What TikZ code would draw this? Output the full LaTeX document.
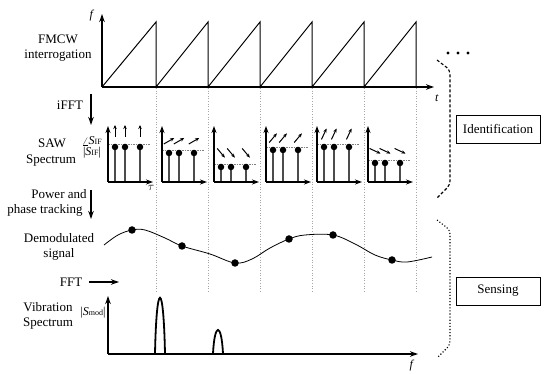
\documentclass[tikz,border=0pt]{standalone}
\usepackage{fontspec}
\setmainfont{Liberation Serif}
\usetikzlibrary{arrows.meta}
\begin{document}
\begin{tikzpicture}[x=1pt,y=-1pt,
  lbl/.style={font=\fontsize{13}{15}\selectfont, inner sep=0pt, align=center},
  small/.style={font=\fontsize{12}{13}\selectfont, inner sep=0pt},
  axis/.style={line width=1.2pt, -{Stealth[length=8pt,width=5.5pt]}},
  paxis/.style={line width=1.1pt, -{Stealth[length=7pt,width=5pt]}},
  flow/.style={line width=1.2pt, -{Stealth[length=8pt,width=5.5pt]}},
  guide/.style={gray!70, dotted, line width=0.6pt},
  stem/.style={line width=1.6pt, black!70},
  sdot/.style={fill=black, circle, inner sep=0pt, minimum size=6.5pt},
  level/.style={gray, dash pattern=on 1.5pt off 1pt, line width=0.7pt},
  phase/.style={line width=1pt, -{Stealth[length=4pt,width=3.5pt]}},
  tag/.style={draw, line width=0.8pt, minimum width=84pt, minimum height=28pt, inner sep=0pt, font=\fontsize{13}{15}\selectfont},
  peak/.style={line width=1.8pt}
]
\useasboundingbox (0,0) rectangle (550,374);

% guides
\foreach \gx in {156,208,260,312,364,416}
  \draw[guide] (\gx,88) -- (\gx,292);

% FMCW axes and sawtooth
\coordinate (fo) at (102,87);
\coordinate (fy) at (102,14);
\coordinate (fx) at (434,87);
\draw[axis] (fo) -- (fy);
\draw[axis] (fo) -- (fx);
\draw[line width=1pt] (102,87) -- (156,22) -- (156,87) -- (208,22) -- (208,87) -- (260,22) -- (260,87) -- (312,22) -- (312,87) -- (364,22) -- (364,87) -- (416,22) -- (416,87);
\node[small] (flab) at (92,16) {\textit{f}};
\node[small] (tlab) at (437,98) {\textit{t}};

% left labels
\node[lbl] (fmcw) at (58,48) {FMCW\\interrogation};
\node[lbl] (ifft) at (70,105) {iFFT};
\coordinate (a1s) at (91,94); \coordinate (a1e) at (91,125);
\draw[flow] (a1s) -- (a1e);
\node[lbl] (saw1) at (52,143) {SAW};
\node[lbl] (saw2) at (51,161) {Spectrum};
\node[small] (angs) at (92,141) {$\angle$\textit{S}{\fontsize{8}{9}\selectfont IF}};
\node[small] (mags) at (92,153) {|\textit{S}{\fontsize{8}{9}\selectfont IF}|};
\node[lbl] (pow1) at (59,194) {Power and};
\node[lbl] (pow2) at (45,210) {phase tracking};
\coordinate (a2s) at (91,190); \coordinate (a2e) at (91,219);
\draw[flow] (a2s) -- (a2e);
\node[lbl] (dem) at (59,247) {Demodulated\\signal};
\node[lbl] (fft) at (71,282) {FFT};
\coordinate (a3s) at (89,282); \coordinate (a3e) at (119,282);
\draw[flow] (a3s) -- (a3e);
\node[lbl] (vib) at (48,316) {Vibration\\Spectrum};

% SAW spectrum panels
\foreach \i/\ax/\dy/\ang/\ay in {1/108/147/90/131, 2/162/153/30/141, 3/214/167/-50/153, 4/266/150/50/138, 5/317/147/65/134, 6/368/163/-25/151} {
  \coordinate (po\i) at (\ax,182);
  \coordinate (py\i) at (\ax,126);
  \coordinate (px\i) at (\ax+45,182);
  \draw[level] (\ax,\dy-3) -- (\ax+42,\dy-3);
  \foreach \d in {7,17,32} {
    \draw[stem] (\ax+\d,182) -- (\ax+\d,\dy);
    \node[sdot] (s\i-\d) at (\ax+\d,\dy) {};
    \draw[phase] (\ax+\d,\ay) ++({180-\ang}:6) -- ++({-\ang}:12);
  }
  \draw[paxis] (po\i) -- (py\i);
  \draw[paxis] (po\i) -- (px\i);
}
\node[small] (tau) at (151,188) {$\tau$};

% demodulated signal
\draw[line width=0.8pt] plot[smooth, tension=0.6] coordinates {(104,245) (118,235) (132,230) (145,230) (165,238) (182,246) (210,254) (235,263) (252,259) (270,248) (289,239) (305,235) (333,235) (355,244) (375,255) (392,260) (407,262) (432,257)};
\foreach \n/\px/\py in {1/132/230, 2/182/246, 3/235/263, 4/289/239, 5/333/235, 6/392/260}
  \node[sdot, minimum size=7.5pt] (m\n) at (\px,\py) {};

% vibration spectrum
\coordinate (vo) at (108,354);
\coordinate (vy) at (108,296);
\coordinate (vx) at (418,354);
\draw[axis] (vo) -- (vy);
\draw[axis] (vo) -- (vx);
\node[small] (smod) at (93,313) {|\textit{S}{\fontsize{8}{9}\selectfont mod}|};
\node[small] (flab2) at (412,366) {\textit{f}};
\draw[peak] (155,354) .. controls (156.5,279) and (163.5,279) .. (165,354);
\draw[peak] (213,354) .. controls (214.5,322) and (221.5,322) .. (223,354);

% right side
\foreach \k/\dx in {1/448,2/458,3/468}
  \fill (\dx,53) circle (1.6pt);
\draw[line width=1.1pt, dash pattern=on 3pt off 2pt, rounded corners=4pt] (437,60) -- (450,70) -- (450,185) -- (437,198);
\draw[line width=1.1pt, dotted, rounded corners=4pt] (437,220) -- (450,230) -- (450,345) -- (437,358);
\node[tag] (ident) at (498,129) {Identification};
\node[tag] (sens) at (498,291) {Sensing};
\end{tikzpicture}
\end{document}
